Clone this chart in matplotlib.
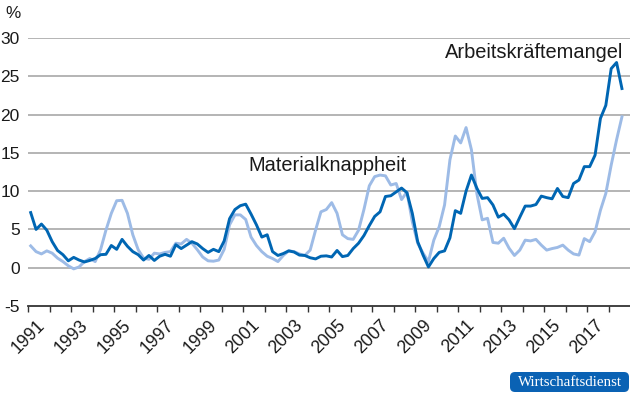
import matplotlib
matplotlib.use("Agg")
import matplotlib.pyplot as plt
from matplotlib.patches import FancyBboxPatch
from matplotlib.transforms import IdentityTransform
import numpy as np

plt.rcParams['font.family'] = ['Liberation Sans', 'DejaVu Sans']

# Quartalswerte 1991 Q1 - 2018 Q3, in %
arbeitskraeftemangel = [
    7.2, 5.0, 5.7, 4.9,   3.4, 2.25, 1.7, 0.9,   1.35, 1.0, 0.75, 0.95,
    1.2, 1.7, 1.75, 2.9,  2.4, 3.7, 2.8, 2.1,    1.7, 1.0, 1.6, 0.95,
    1.5, 1.75, 1.5, 3.0,  2.5, 2.95, 3.4, 3.1,   2.5, 2.0, 2.4, 2.1,
    3.5, 6.4, 7.6, 8.1,   8.3, 7.0, 5.6, 4.0,    4.3, 2.1, 1.6, 1.85,
    2.2, 2.05, 1.65, 1.6, 1.3, 1.15, 1.5, 1.55,  1.4, 2.25, 1.45, 1.6,
    2.5, 3.2, 4.2, 5.5,   6.7, 7.3, 9.3, 9.4,    9.9, 10.4, 9.8, 7.1,
    3.4, 1.65, 0.1, 1.2,  2.0, 2.2, 3.9, 7.45,   7.1, 10.0, 12.1, 10.4,
    9.05, 9.15, 8.2, 6.6, 7.0, 6.25, 5.1, 6.6,   8.05, 8.05, 8.25, 9.35,
    9.15, 9.0, 10.35, 9.3, 9.15, 11.0, 11.45, 13.2, 13.2, 14.7, 19.5, 21.2,
    26.0, 26.8, 23.4,
]
materialknappheit = [
    2.85, 2.1, 1.8, 2.2,  1.9, 1.25, 0.8, 0.25,  -0.15, 0.1, 0.8, 1.2,
    0.8, 2.35, 4.9, 7.1,  8.75, 8.8, 7.1, 4.3,   2.35, 1.25, 1.1, 1.9,
    1.8, 2.0, 2.1, 3.2,   3.1, 3.7, 3.2, 2.35,   1.4, 0.9, 0.85, 1.0,
    2.4, 5.6, 6.9, 6.9,   6.3, 4.0, 2.9, 2.1,    1.5, 1.2, 0.8, 1.6,
    2.2, 2.1, 1.8, 1.6,   2.3, 4.9, 7.3, 7.6,    8.5, 7.1, 4.3, 3.8,
    3.7, 4.9, 7.6, 10.7,  11.9, 12.1, 12.0, 10.8, 11.0, 8.9, 9.9, 6.0,
    3.2, 1.9, 0.8, 3.6,   5.35, 8.2, 14.1, 17.2, 16.3, 18.3, 15.4, 9.7,
    6.25, 6.45, 3.3, 3.2, 3.85, 2.55, 1.6, 2.3,  3.6, 3.5, 3.7, 2.95,
    2.3, 2.5, 2.65, 2.95, 2.3, 1.8, 1.65, 3.8,   3.4, 4.7, 7.5, 9.7,
    13.4, 16.7, 19.7,
]
jahre_beschriftet = list(range(1991, 2018, 2))

# Zeitachse: Quartalsmitte
t = 1991 + 0.125 + 0.25 * np.arange(len(arbeitskraeftemangel))

dunkel = "#0066b3"
hell = "#9dbbe6"

fig = plt.figure(figsize=(6.3, 3.98), dpi=100)
ax = fig.add_axes([28 / 630, (398 - 306) / 398, 602 / 630, 268 / 398])

for y in range(0, 31, 5):
    ax.axhline(y, color="#a0a0a0", lw=1.1, zorder=1)

ax.plot(t, materialknappheit, color=hell, lw=2.1, zorder=2, solid_joinstyle="round")
ax.plot(t, arbeitskraeftemangel, color=dunkel, lw=2.1, zorder=3, solid_joinstyle="round")

ax.set_xlim(1991, 2019)
ax.set_ylim(-5, 30)
ax.set_yticks(range(-5, 31, 5))
ax.set_yticklabels([str(v) for v in range(-5, 31, 5)])
ax.set_xticks(jahre_beschriftet)
ax.set_xticklabels([str(j) for j in jahre_beschriftet], rotation=45)
ax.set_xticks(range(1992, 2019, 2), minor=True)

for s in ["left", "right", "top"]:
    ax.spines[s].set_visible(False)
ax.spines["bottom"].set_color("#333333")
ax.spines["bottom"].set_linewidth(1.3)

ax.tick_params(axis="y", length=0, pad=6, labelsize=12.5, colors="#1a1a1a")
ax.tick_params(axis="x", which="both", direction="out", length=4.5, width=1.0,
               color="#333333", pad=3, labelsize=12.8, labelcolor="#1a1a1a")

fig.text(5 / 630, 1 - 18 / 398, "%", fontsize=12.3, color="#1a1a1a")

ax.text(623, 398 - 58, "Arbeitskräftemangel", transform=None, fontsize=14.4, color="#1a1a1a",
        ha="right", va="baseline")
ax.text(248, 398 - 171, "Materialknappheit", transform=None, fontsize=14.4, color="#1a1a1a",
        ha="left", va="baseline")

# Logo unten rechts
box = FancyBboxPatch((510, 398 - 392), 119, 20, boxstyle="round,pad=0,rounding_size=5",
                     transform=IdentityTransform(), fc="#0a62b4", ec="none")
fig.patches.append(box)
fig.text(569.5 / 630, 1 - 382 / 398, "Wirtschaftsdienst", family="Liberation Serif",
         fontsize=10.8, color="white", ha="center", va="center")

fig.savefig("out.png", dpi=100)
